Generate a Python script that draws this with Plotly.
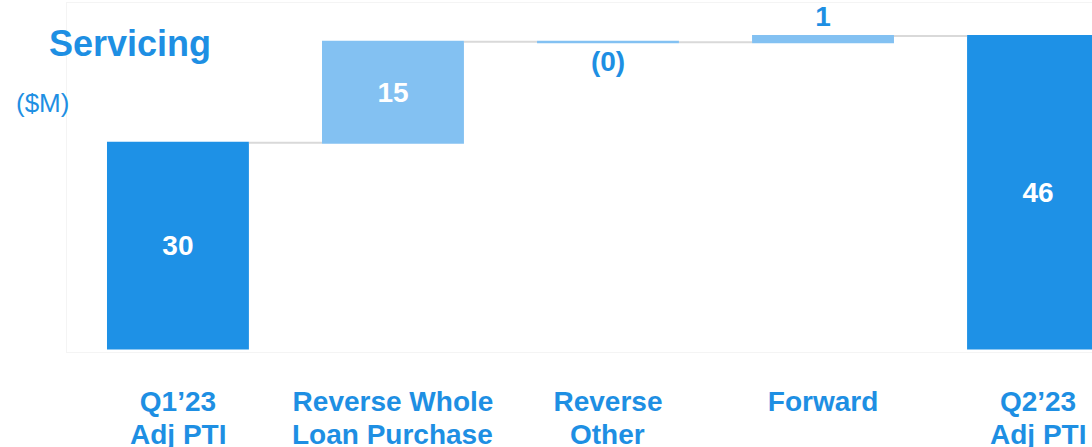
import plotly.graph_objects as go

categories = ["Q1'23 Adj PTI", "Reverse Whole Loan Purchase", "Reverse Other", "Forward", "Q2'23 Adj PTI"]
label_line1 = ["Q1’23", "Reverse Whole", "Reverse", "Forward", "Q2’23"]
label_line2 = ["Adj PTI", "Loan Purchase", "Other", "", "Adj PTI"]
values = [30, 14.7, -0.06, 0.9, 45.5]
measures = ["absolute", "relative", "relative", "relative", "total"]
value_labels = ["30", "15", "(0)", "1", "46"]
text_positions = ["inside", "inside", "outside", "outside", "inside"]

DARK = "#1E91E6"
LIGHT = "#83C1F2"
TXT = "#1E8FE3"
FONT = "Liberation Sans"

fig = go.Figure()
fig.add_trace(go.Waterfall(
    x=categories, y=values, measure=measures,
    text=value_labels, textposition=text_positions,
    insidetextanchor="middle",
    insidetextfont=dict(family=FONT, size=28, color="white", weight="bold"),
    outsidetextfont=dict(family=FONT, size=28, color=TXT, weight="bold"),
    constraintext="none", cliponaxis=False,
    increasing=dict(marker=dict(color=LIGHT, line=dict(width=0))),
    decreasing=dict(marker=dict(color=LIGHT, line=dict(width=0))),
    totals=dict(marker=dict(color=DARK, line=dict(width=0))),
    connector=dict(line=dict(color="#d9d9d9", width=2), mode="between"),
    width=0.66,
    showlegend=False,
))

annots = []
annots.append(dict(text="<b>Servicing</b>", xref="paper", yref="paper",
                   x=-20/1025, y=(352-43)/349, xanchor="left", yanchor="middle",
                   showarrow=False, font=dict(family=FONT, size=36, color=TXT)))
annots.append(dict(text="($M)", xref="paper", yref="paper",
                   x=-53/1025, y=(352-103)/349, xanchor="left", yanchor="middle",
                   showarrow=False, font=dict(family=FONT, size=26, color=TXT)))
for c, l2 in zip(categories, label_line2):
    if l2:
        annots.append(dict(text="<b>" + l2 + "</b>", x=c, xref="x", yref="paper",
                           y=-(434-352)/349, yanchor="middle", showarrow=False,
                           font=dict(family=FONT, size=28, color=TXT)))

fig.update_layout(
    width=1092, height=447,
    margin=dict(l=67, r=0, t=3, b=95),
    paper_bgcolor="white", plot_bgcolor="white",
    annotations=annots,
    xaxis=dict(type="category", range=[-0.516, 4.251],
               tickvals=categories, ticktext=["<b>" + t + "</b>" for t in label_line1],
               tickfont=dict(family=FONT, size=28, color=TXT),
               ticks="", ticklabelstandoff=24,
               showline=True, mirror=True, linecolor="#f4f4f4", linewidth=1,
               showgrid=False, zeroline=False),
    yaxis=dict(range=[-0.51, 50.36], showticklabels=False, showgrid=False,
               zeroline=False, showline=True, mirror=True, linecolor="#f4f4f4", linewidth=1),
)

fig.write_html("out.html")
